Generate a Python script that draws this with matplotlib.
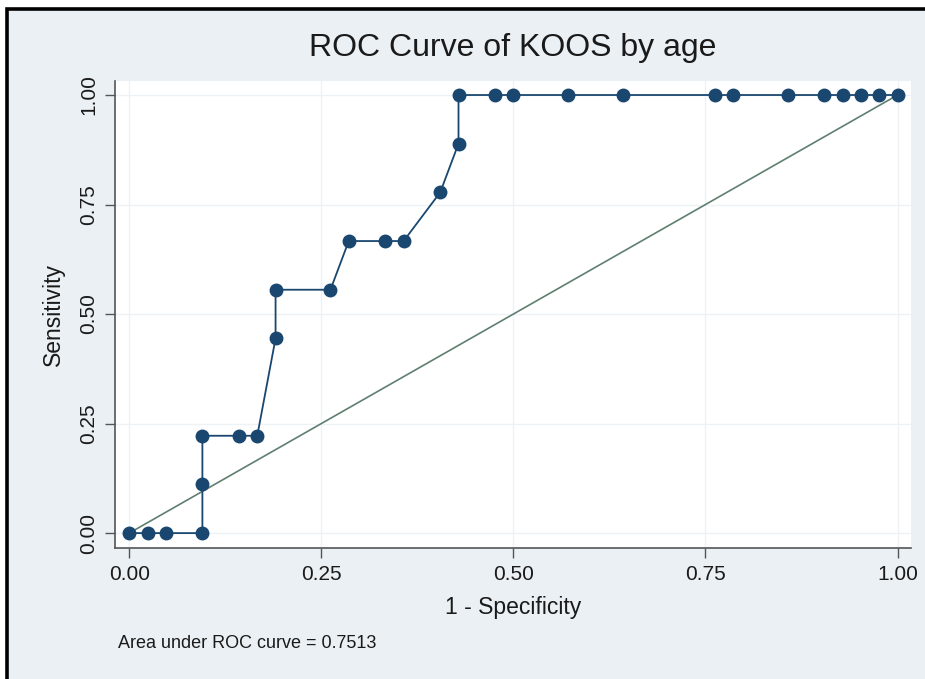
import matplotlib
matplotlib.use("Agg")
import matplotlib.pyplot as plt
from matplotlib.patches import Rectangle

plt.rcParams['font.family'] = ['Liberation Sans', 'DejaVu Sans']

# Data: 1 - specificity (out of 42 negatives) and sensitivity (out of 9 positives)
fpr_counts = [0, 1, 2, 4, 4, 4, 6, 7, 8, 8, 11, 12, 14, 15, 17, 18, 18,
              20, 21, 24, 27, 32, 33, 36, 38, 39, 40, 41, 42]
tpr_counts = [0, 0, 0, 0, 1, 2, 2, 2, 4, 5, 5, 6, 6, 6, 7, 8, 9,
              9, 9, 9, 9, 9, 9, 9, 9, 9, 9, 9, 9]
n_neg = 42
n_pos = 9
fpr = [c / n_neg for c in fpr_counts]
tpr = [c / n_pos for c in tpr_counts]
ref_line = [0, 1]
ticks = [0.0, 0.25, 0.5, 0.75, 1.0]
tick_labels = ["0.00", "0.25", "0.50", "0.75", "1.00"]
title = "ROC Curve of KOOS by age"
auc_text = "Area under ROC curve = 0.7513"

bg = "#eaf0f4"
navy = "#1a476f"
diag_col = "#5f7f70"

fig = plt.figure(figsize=(9.25, 6.79), dpi=100)
fig.patch.set_facecolor("white")
# graph region with black frame on top & left
fig.patches.append(Rectangle((6.5 / 925, -0.05), 1.2, 1 - 8.5 / 679 + 0.05,
                             transform=fig.transFigure, facecolor=bg,
                             edgecolor="black", linewidth=2.6, zorder=-10))

ax = fig.add_axes([115 / 925, 1 - 548 / 679, (911 - 115) / 925, (548 - 81) / 679])
ax.set_zorder(5)
ax.set_facecolor("white")
ax.set_xlim(-0.0185, 1.0175)
ax.set_ylim(-0.034, 1.032)

ax.plot(ref_line, ref_line, color=diag_col, linewidth=1.2, zorder=2)
ax.plot(fpr, tpr, color=navy, linewidth=1.3, marker="o", markersize=9,
        markerfacecolor=navy, markeredgecolor=navy, zorder=3)

ax.set_xticks(ticks)
ax.set_xticklabels(tick_labels, fontsize=15)
ax.set_yticks(ticks)
ax.set_yticklabels(tick_labels, fontsize=15, rotation=90, va="center")
ax.grid(True, color="#eef2f5", linewidth=1.0, zorder=0)
ax.set_axisbelow(True)
for s in ["top", "right"]:
    ax.spines[s].set_visible(False)
for s in ["left", "bottom"]:
    ax.spines[s].set_color("#555555")
    ax.spines[s].set_linewidth(1.2)
ax.tick_params(axis="both", color="#555555", length=7, width=1.0,
               labelcolor="#1a1a1a", pad=5)

ax.set_xlabel("1 - Specificity", fontsize=16.5, color="#1a1a1a", labelpad=9)
ax.set_ylabel("Sensitivity", fontsize=16.5, color="#1a1a1a", labelpad=10)
fig.text(513 / 925, 1 - 48 / 679, title, fontsize=23, ha="center", va="center",
         color="#1a1a1a")
fig.text(118 / 925, 1 - 643 / 679, auc_text, fontsize=13, ha="left", va="center",
         color="#1a1a1a")

fig.savefig("out.png", dpi=100, facecolor=fig.get_facecolor())
